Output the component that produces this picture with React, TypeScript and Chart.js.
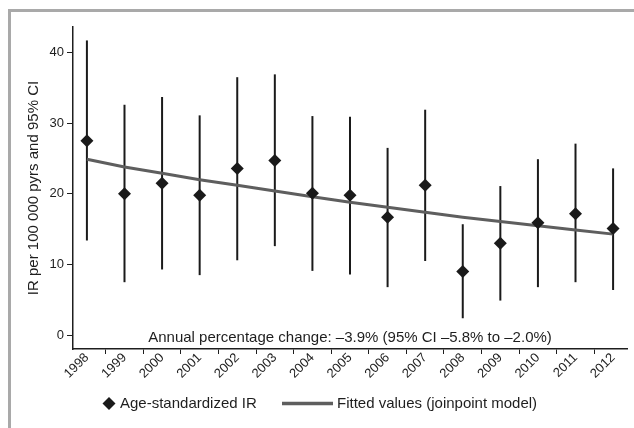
import React, { useEffect, useRef } from 'react';
import { Chart, registerables } from 'chart.js';

Chart.register(...registerables);

const years = [1998, 1999, 2000, 2001, 2002, 2003, 2004, 2005, 2006, 2007, 2008, 2009, 2010, 2011, 2012];
const irValues = [27.5, 20.0, 21.5, 19.8, 23.6, 24.7, 20.1, 19.8, 16.7, 21.2, 9.0, 13.0, 15.9, 17.2, 15.1];
const ciLower = [13.4, 7.5, 9.3, 8.5, 10.6, 12.6, 9.1, 8.6, 6.8, 10.5, 2.4, 4.9, 6.8, 7.5, 6.4];
const ciUpper = [41.7, 32.6, 33.7, 31.1, 36.5, 36.9, 31.0, 30.9, 26.5, 31.9, 15.7, 21.1, 24.9, 27.1, 23.6];
const fittedValues = [24.9, 23.8, 22.9, 22.0, 21.2, 20.4, 19.6, 18.8, 18.1, 17.4, 16.7, 16.1, 15.5, 14.9, 14.3];

const yAxisTitle = 'IR per 100 000 pyrs and 95% CI';
const annotationText = 'Annual percentage change: \u20133.9% (95% CI \u20135.8% to \u20132.0%)';
const legendLabels = ['Age-standardized IR', 'Fitted values (joinpoint model)'];

const FONT = '"Liberation Sans", Arimo, Arial, Helvetica, sans-serif';
const INK = '#1e1e1e';
const FIT_COLOR = '#5e5e5e';

const overlayPlugin = {
  id: 'overlay',
  afterDraw(chart: any) {
    const { ctx, chartArea, scales } = chart;
    const xs = scales.x;
    const ys = scales.y;
    ctx.save();
    ctx.fillStyle = INK;
    ctx.font = `15px ${FONT}`;
    // y-axis title
    ctx.save();
    ctx.translate(23, (chartArea.top + chartArea.bottom) / 2);
    ctx.rotate(-Math.PI / 2);
    ctx.textAlign = 'center';
    ctx.textBaseline = 'middle';
    ctx.fillText(yAxisTitle, 0, 0);
    ctx.restore();
    // annotation
    ctx.textAlign = 'center';
    ctx.textBaseline = 'alphabetic';
    ctx.fillText(annotationText, xs.getPixelForValue(2005), ys.getPixelForValue(0) + 6.5);
    // legend
    const ly = 391.5;
    const dx = 98;
    const r = 6.5;
    ctx.fillStyle = '#1a1a1a';
    ctx.beginPath();
    ctx.moveTo(dx, ly - r);
    ctx.lineTo(dx + r, ly);
    ctx.lineTo(dx, ly + r);
    ctx.lineTo(dx - r, ly);
    ctx.closePath();
    ctx.fill();
    ctx.fillStyle = INK;
    ctx.textAlign = 'left';
    ctx.textBaseline = 'middle';
    ctx.fillText(legendLabels[0], 109, ly);
    ctx.strokeStyle = FIT_COLOR;
    ctx.lineWidth = 3.5;
    ctx.beginPath();
    ctx.moveTo(271, ly);
    ctx.lineTo(322, ly);
    ctx.stroke();
    ctx.fillText(legendLabels[1], 326, ly);
    ctx.restore();
  },
};

export default function App() {
  const canvasRef = useRef<HTMLCanvasElement | null>(null);

  useEffect(() => {
    const canvas = canvasRef.current;
    if (!canvas) return;
    const chart = new Chart(canvas, {
      type: 'scatter',
      data: {
        datasets: [
          {
            type: 'scatter',
            label: legendLabels[0],
            data: years.map((y, i) => ({ x: y, y: irValues[i] })),
            pointStyle: 'rectRot',
            pointRadius: 6.5,
            pointHoverRadius: 6.5,
            backgroundColor: '#1a1a1a',
            borderColor: '#1a1a1a',
            borderWidth: 0,
            order: 1,
          } as any,
          {
            type: 'line',
            label: legendLabels[1],
            data: years.map((y, i) => ({ x: y, y: fittedValues[i] })),
            borderColor: FIT_COLOR,
            borderWidth: 3,
            pointRadius: 0,
            tension: 0,
            fill: false,
            order: 2,
          } as any,
          {
            type: 'bar',
            label: '95% CI',
            data: years.map((y, i) => ({ x: y, y: [ciLower[i], ciUpper[i]] })),
            backgroundColor: '#1a1a1a',
            borderWidth: 0,
            barThickness: 2,
            inflateAmount: 0,
            order: 3,
          } as any,
        ],
      },
      options: {
        animation: false,
        responsive: false,
        devicePixelRatio: 1,
        layout: { padding: { left: 0, top: 15, right: 7, bottom: 0 } },
        plugins: {
          legend: { display: false },
          tooltip: { enabled: false },
          title: { display: false },
        },
        scales: {
          x: {
            type: 'linear',
            min: 1997.63,
            max: 2012.37,
            offset: false,
            afterFit(scale: any) {
              scale.height = 79;
            },
            grid: {
              display: true,
              drawOnChartArea: false,
              drawTicks: true,
              tickLength: 5,
              color: INK,
              lineWidth: 1,
            },
            border: { display: true, color: INK, width: 1.5 },
            ticks: {
              stepSize: 1,
              includeBounds: false,
              autoSkip: false,
              minRotation: 45,
              maxRotation: 45,
              padding: -4,
              color: INK,
              font: { family: FONT, size: 13 },
              callback: (v: any) => String(v),
            },
          },
          y: {
            type: 'linear',
            min: -1.95,
            max: 43.6,
            afterFit(scale: any) {
              scale.width = 62;
            },
            grid: {
              display: true,
              drawOnChartArea: false,
              drawTicks: true,
              tickLength: 6,
              color: INK,
              lineWidth: 1,
            },
            border: { display: true, color: INK, width: 1.5 },
            ticks: {
              stepSize: 10,
              includeBounds: false,
              padding: 3,
              color: INK,
              font: { family: FONT, size: 13 },
              callback: (v: any) => String(v),
            },
          },
        },
      } as any,
      plugins: [overlayPlugin],
    });
    return () => chart.destroy();
  }, []);

  return (
    <div
      style={{
        position: 'fixed',
        left: 8,
        top: 9,
        width: 626,
        height: 419,
        boxSizing: 'border-box',
        borderTop: '3px solid #a9a9a9',
        borderLeft: '3px solid #a9a9a9',
        background: '#ffffff',
        overflow: 'hidden',
      }}
    >
      <canvas ref={canvasRef} width={623} height={416} style={{ display: 'block' }} />
    </div>
  );
}
